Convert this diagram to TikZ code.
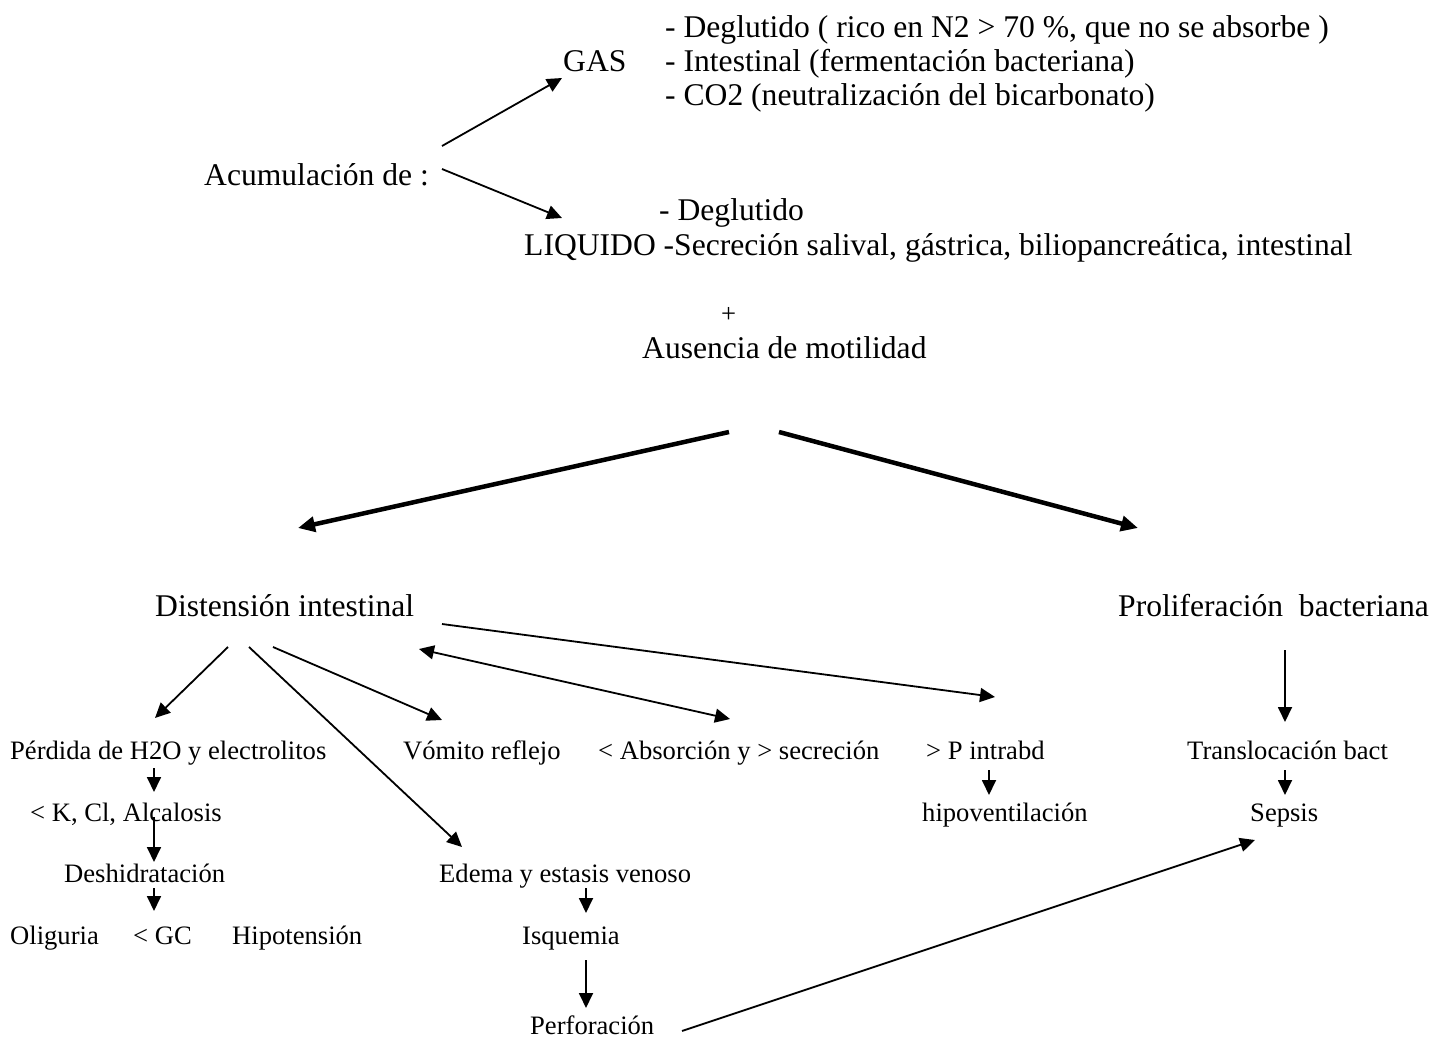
\documentclass[tikz,border=0pt]{standalone}
\usepackage{fontspec}
\setmainfont{Liberation Serif}
\usetikzlibrary{arrows.meta}
\begin{document}
\begin{tikzpicture}[x=1pt,y=-1pt,
  big/.style={inner sep=0pt,anchor=base west,font=\fontsize{31.6}{36}\selectfont},
  small/.style={inner sep=0pt,anchor=base west,font=\fontsize{26.6}{30}\selectfont},
  thin/.style={line width=1.8pt,-{Triangle[length=15pt,width=14pt]}},
  thinboth/.style={line width=1.8pt,{Triangle[length=15pt,width=14pt]}-{Triangle[length=15pt,width=14pt]}},
  thick/.style={line width=4.5pt,-{Triangle[length=17pt,width=15pt]}}]
\useasboundingbox[fill=white] (0,0) rectangle (1452,1041);
% top
\node[big] (g1) at (665,38) {- Deglutido ( rico en N2 > 70 \%, que no se absorbe )};
\node[big] (gas) at (563,71) {GAS};
\node[big] (g2) at (665,71) {- Intestinal (fermentación bacteriana)};
\node[big] (g3) at (665,106) {- CO2 (neutralización del bicarbonato)};
\node[big] (acum) at (204,185) {Acumulación de :};
\node[big] (l1) at (659,220) {- Deglutido};
\node[big] (liq) at (524,255) {LIQUIDO -Secreción salival, gástrica, biliopancreática, intestinal};
\node[small] (plus) at (721,322) {+};
\node[big] (aus) at (642,358) {Ausencia de motilidad};
\node[big] (dist) at (155,616) {Distensión intestinal};
\node[big] (prol) at (1118,616) {Proliferación\ \ bacteriana};
% row 1
\node[small] (perd) at (10,759) {Pérdida de H2O y electrolitos};
\node[small] (vom) at (403,759) {Vómito reflejo};
\node[small] (abs) at (598,759) {< Absorción y > secreción};
\node[small] (pint) at (926,759) {> P intrabd};
\node[small] (trans) at (1187,759) {Translocación bact};
% row 2
\node[small] (alc) at (30,821) {< K, Cl, Alcalosis};
\node[small] (hipov) at (922,821) {hipoventilación};
\node[small] (seps) at (1250,821) {Sepsis};
% row 3
\node[small] (desh) at (64,882) {Deshidratación};
\node[small] (edema) at (439,882) {Edema y estasis venoso};
% row 4
\node[small] (olig) at (10,944) {Oliguria};
\node[small] (gc) at (133,944) {< GC};
\node[small] (hipot) at (232,944) {Hipotensión};
\node[small] (isq) at (522,944) {Isquemia};
\node[small] (perf) at (530,1034) {Perforación};
% connector end points
\coordinate (acumU) at (442,146); \coordinate (gasT) at (562,78);
\coordinate (acumD) at (442,169); \coordinate (liqT) at (562,218);
\coordinate (ausL) at (729,432); \coordinate (distT) at (298,528);
\coordinate (ausR) at (779,432); \coordinate (prolT) at (1138,528);
\coordinate (dA) at (228,647); \coordinate (perdT) at (155,718);
\coordinate (dB) at (249,647); \coordinate (edemaT) at (462,847);
\coordinate (dC) at (273,647); \coordinate (vomT) at (442,720);
\coordinate (dD) at (419,649); \coordinate (absT) at (730,719);
\coordinate (dE) at (442,624); \coordinate (pintT) at (995,697);
\coordinate (pB) at (1285,650); \coordinate (transT) at (1285,722);
\coordinate (perdB) at (154,768); \coordinate (alcT) at (154,792);
\coordinate (alcB) at (154,817); \coordinate (deshT) at (154,862);
\coordinate (deshB) at (154,888); \coordinate (rowT) at (154,911);
\coordinate (edemaB) at (586,888); \coordinate (isqT) at (586,913);
\coordinate (isqB) at (586,960); \coordinate (perfT) at (586,1008);
\coordinate (pintB) at (989,770); \coordinate (hipovT) at (989,795);
\coordinate (transB) at (1285,770); \coordinate (sepsT) at (1285,795);
\coordinate (perfR) at (682,1031); \coordinate (sepsL) at (1255,840);
% connectors
\draw[thin] (acumU) -- (gasT);
\draw[thin] (acumD) -- (liqT);
\draw[thick] (ausL) -- (distT);
\draw[thick] (ausR) -- (prolT);
\draw[thin] (dA) -- (perdT);
\draw[thin] (dB) -- (edemaT);
\draw[thin] (dC) -- (vomT);
\draw[thinboth] (dD) -- (absT);
\draw[thin] (dE) -- (pintT);
\draw[thin] (pB) -- (transT);
\draw[thin] (perdB) -- (alcT);
\draw[thin] (alcB) -- (deshT);
\draw[thin] (deshB) -- (rowT);
\draw[thin] (edemaB) -- (isqT);
\draw[thin] (isqB) -- (perfT);
\draw[thin] (pintB) -- (hipovT);
\draw[thin] (transB) -- (sepsT);
\draw[thin] (perfR) -- (sepsL);
\end{tikzpicture}
\end{document}
